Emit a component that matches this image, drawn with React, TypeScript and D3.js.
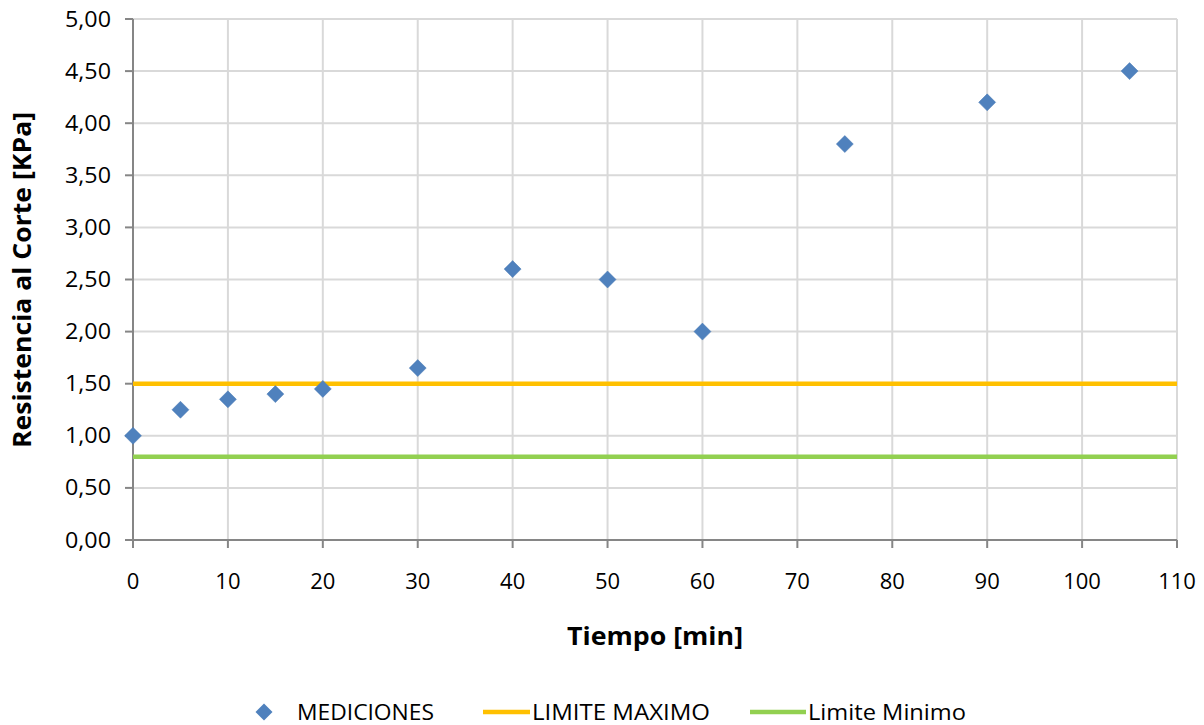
import React from "react";
import * as d3 from "d3";

const times = [0, 5, 10, 15, 20, 30, 40, 50, 60, 75, 90, 105];
const mediciones = [1.0, 1.25, 1.35, 1.4, 1.45, 1.65, 2.6, 2.5, 2.0, 3.8, 4.2, 4.5];
const limiteMaximo = 1.5;
const limiteMinimo = 0.8;
const xTicks = [0, 10, 20, 30, 40, 50, 60, 70, 80, 90, 100, 110];
const yTicks = [0, 0.5, 1, 1.5, 2, 2.5, 3, 3.5, 4, 4.5, 5];

const W = 1204;
const H = 725;
const left = 133, right = 1177, top = 19, bottom = 540;

export default function App() {
  const x = d3.scaleLinear().domain([0, 110]).range([left, right]);
  const y = d3.scaleLinear().domain([0, 5]).range([bottom, top]);
  const fmt = (v: number) => v.toFixed(2).replace(".", ",");
  const font = "'Open Sans', 'Liberation Sans', sans-serif";
  const diamond = (cx: number, cy: number, r: number) =>
    `M${cx},${cy - r}L${cx + r},${cy}L${cx},${cy + r}L${cx - r},${cy}Z`;
  return (
    <svg width={W} height={H} style={{ position: "absolute", left: 0, top: 0 }} fontFamily={font}>
      <rect width={W} height={H} fill="#fff" />
      {yTicks.map((t) => (
        <line key={"gy" + t} x1={left} x2={right} y1={y(t)} y2={y(t)} stroke="#D9D9D9" strokeWidth={2} />
      ))}
      {xTicks.map((t) => (
        <line key={"gx" + t} x1={x(t)} x2={x(t)} y1={top} y2={bottom} stroke="#D9D9D9" strokeWidth={2} />
      ))}
      {/* axes */}
      <line x1={left} x2={left} y1={top} y2={bottom + 8} stroke="#868686" strokeWidth={2} />
      <line x1={left - 8} x2={right} y1={bottom} y2={bottom} stroke="#868686" strokeWidth={2} />
      {yTicks.map((t) => (
        <g key={"ty" + t}>
          <line x1={left - 8} x2={left} y1={y(t)} y2={y(t)} stroke="#868686" strokeWidth={2} />
          <text x={left - 22} y={y(t)} dy="0.36em" textAnchor="end" fontSize={21} fill="#000" textLength={46} lengthAdjust="spacingAndGlyphs">
            {fmt(t)}
          </text>
        </g>
      ))}
      {xTicks.map((t) => (
        <g key={"tx" + t}>
          <line x1={x(t)} x2={x(t)} y1={bottom} y2={bottom + 8} stroke="#868686" strokeWidth={2} />
          <text x={x(t)} y={bottom + 41} dy="0.36em" textAnchor="middle" fontSize={22} fill="#000">
            {t}
          </text>
        </g>
      ))}
      {/* limit lines */}
      <line x1={x(0)} x2={x(110)} y1={y(limiteMaximo)} y2={y(limiteMaximo)} stroke="#FFC000" strokeWidth={4.5} />
      <line x1={x(0)} x2={x(110)} y1={y(limiteMinimo)} y2={y(limiteMinimo)} stroke="#92D050" strokeWidth={4.5} />
      {/* points */}
      {times.map((t, i) => (
        <path key={"p" + i} d={diamond(x(t), y(mediciones[i]), 8.5)} fill="#4F81BD" stroke="#4a7ab5" strokeWidth={0.5} />
      ))}
      {/* axis titles */}
      <text x={655} y={636} dy="0.36em" textAnchor="middle" fontSize={25} fontWeight="bold" fill="#000" textLength={176} lengthAdjust="spacingAndGlyphs">
        Tiempo [min]
      </text>
      <text transform={`translate(22,280) rotate(-90)`} dy="0.36em" textAnchor="middle" fontSize={25} fontWeight="bold" fill="#000" textLength={336} lengthAdjust="spacingAndGlyphs">
        Resistencia al Corte [KPa]
      </text>
      {/* legend */}
      <path d={diamond(264, 712, 8.5)} fill="#4F81BD" />
      <text x={297} y={712} dy="0.36em" fontSize={21} fill="#000" textLength={137} lengthAdjust="spacingAndGlyphs">
        MEDICIONES
      </text>
      <line x1={483} x2={530} y1={712} y2={712} stroke="#FFC000" strokeWidth={4.5} />
      <text x={532} y={712} dy="0.36em" fontSize={21} fill="#000" textLength={178} lengthAdjust="spacingAndGlyphs">
        LIMITE MAXIMO
      </text>
      <line x1={750} x2={806} y1={712} y2={712} stroke="#92D050" strokeWidth={4.5} />
      <text x={808} y={712} dy="0.36em" fontSize={21} fill="#000" textLength={158} lengthAdjust="spacingAndGlyphs">
        Limite Minimo
      </text>
    </svg>
  );
}
